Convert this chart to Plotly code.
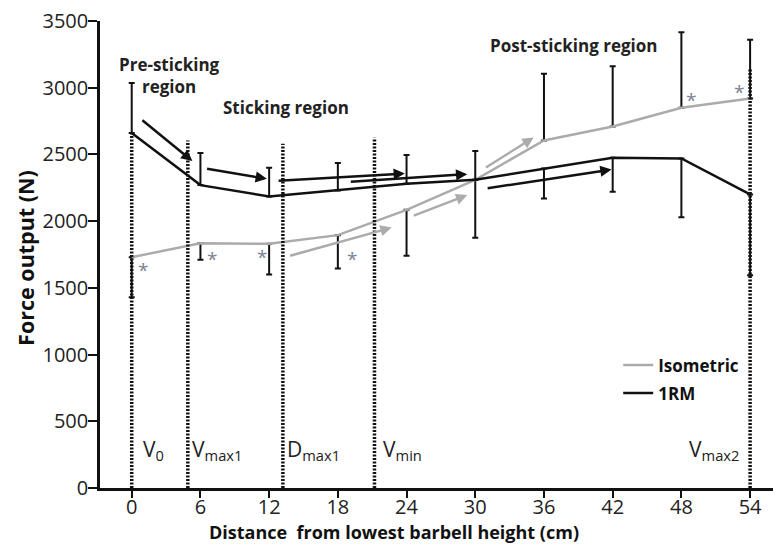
import plotly.graph_objects as go

# Force output along the lift, mean values per barbell height
distance = [0, 6, 12, 18, 24, 30, 36, 42, 48, 54]
force_1rm = [2660, 2270, 2185, 2230, 2280, 2310, 2395, 2475, 2470, 2200]
force_iso = [1730, 1835, 1830, 1895, 2085, 2310, 2605, 2710, 2850, 2920]
sd_1rm = [375, 240, 215, 205, 215, 215, 225, 255, 440, 605]
sd_iso = [300, 125, 230, 250, 345, 435, 500, 450, 565, 440]

x_ticks = [0, 6, 12, 18, 24, 30, 36, 42, 48, 54]
y_ticks = [0, 500, 1000, 1500, 2000, 2500, 3000, 3500]

# significant differences between conditions
star_x = [1.0, 7.0, 11.35, 19.2, 48.8, 53.05]
star_y = [1650, 1735, 1745, 1735, 2925, 2980]

# kinematic events of the lift
event_names = ["V<sub>0</sub>", "V<sub>max1</sub>", "D<sub>max1</sub>",
               "V<sub>min</sub>", "V<sub>max2</sub>"]
event_pos = [0, 4.9, 13.2, 21.2, 54]
event_top = [2660, 2605, 2580, 2625, 3145]
event_shift = [9, 2, 2, 7, -9]

region_names = ["Pre-sticking<br>region", "Sticking region", "Post-sticking region"]
region_x = [3.3, 13.5, 38.6]
region_y = [3090, 2852, 3320]

# trend arrows: (tail, head)
arrows_1rm = [((0.8, 2765), (5.3, 2450)),
              ((6.45, 2395), (11.8, 2317)),
              ((12.7, 2302), (23.85, 2357)),
              ((19.0, 2294), (29.3, 2352)),
              ((30.95, 2245), (41.9, 2387))]
arrows_iso = [((13.7, 1737), (22.7, 1952)),
              ((24.5, 2037), (29.3, 2195)),
              ((30.8, 2395), (35.1, 2627))]

BLACK = "#111111"
GREY = "#ababab"
FONT = "Open Sans"

# one-sided error bars, pointing away from the other condition
rm_up = [s if r >= i else 0 for s, r, i in zip(sd_1rm, force_1rm, force_iso)]
rm_dn = [0 if r >= i else s for s, r, i in zip(sd_1rm, force_1rm, force_iso)]
iso_up = [s if i > r else 0 for s, r, i in zip(sd_iso, force_1rm, force_iso)]
iso_dn = [0 if i > r else s for s, r, i in zip(sd_iso, force_1rm, force_iso)]

fig = go.Figure()

fig.add_trace(go.Scatter(
    x=distance, y=force_iso, name="Isometric", mode="lines",
    line=dict(color=GREY, width=2.5), legendgroup="iso", legendrank=1,
    error_y=dict(type="data", symmetric=False, array=iso_up, arrayminus=iso_dn,
                 color=BLACK, thickness=2, width=3),
))
fig.add_trace(go.Scatter(
    x=distance, y=force_1rm, name="1RM", mode="lines",
    line=dict(color=BLACK, width=2.5), legendgroup="rm", legendrank=2,
    error_y=dict(type="data", symmetric=False, array=rm_up, arrayminus=rm_dn,
                 color=BLACK, thickness=2, width=3),
))

shapes = []
for xp, top in zip(event_pos, event_top):
    shapes.append(dict(type="line", xref="x", yref="y", x0=xp, x1=xp, y0=0, y1=top,
                       line=dict(color=BLACK, width=3.5, dash="2px,1.5px"), layer="above"))

annotations = []
for sx, sy in zip(star_x, star_y):
    annotations.append(dict(
        x=sx, y=sy, xref="x", yref="y", text="*", showarrow=False,
        xanchor="center", yanchor="middle", yshift=-2,
        font=dict(family=FONT, size=19, color="#7b8294"),
    ))
for name, xp, sh in zip(event_names, event_pos, event_shift):
    annotations.append(dict(
        x=xp, y=285, xref="x", yref="y", text=name, showarrow=False,
        xanchor="left" if sh > 0 else "right", yanchor="middle", xshift=sh,
        font=dict(family=FONT, size=21, color="#222222"),
    ))
for name, xp, yp in zip(region_names, region_x, region_y):
    annotations.append(dict(
        x=xp, y=yp, xref="x", yref="y", text=name, showarrow=False,
        xanchor="center", yanchor="middle",
        font=dict(family=FONT, size=17, color="#222222", weight="bold"),
    ))
for arrows, col in ((arrows_1rm, BLACK), (arrows_iso, GREY)):
    for (tx, ty), (hx, hy) in arrows:
        annotations.append(dict(
            x=hx, y=hy, ax=tx, ay=ty, xref="x", yref="y", axref="x", ayref="y",
            text="", showarrow=True, arrowhead=2, arrowsize=0.9, arrowwidth=2.5,
            arrowcolor=col, standoff=0, startstandoff=0,
        ))

# axis titles
annotations.append(dict(
    x=0.4364, y=-0.0935, xref="paper", yref="paper", showarrow=False,
    text="Distance  from lowest barbell height (cm)", xanchor="center", yanchor="middle",
    font=dict(family=FONT, size=18, color="#111111", weight="bold"),
))
annotations.append(dict(
    x=-0.11, y=0.4927, xref="paper", yref="paper", showarrow=False, textangle=-90,
    text="Force output (N)", xanchor="center", yanchor="middle",
    font=dict(family=FONT, size=21.5, color="#111111", weight="bold"),
))

fig.update_layout(
    width=773, height=554,
    margin=dict(l=100, r=0, t=21, b=66),
    paper_bgcolor="white", plot_bgcolor="white",
    font=dict(family=FONT, color="#222222"),
    shapes=shapes, annotations=annotations,
    showlegend=True,
    legend=dict(x=0.77, y=0.2325, xanchor="left", yanchor="middle",
                bgcolor="rgba(0,0,0,0)", itemwidth=30, tracegroupgap=3,
                font=dict(family=FONT, size=17, color="#111111", weight="bold")),
    xaxis=dict(range=[-2.77, 56.0], tickmode="array", tickvals=x_ticks,
               showgrid=False, zeroline=False, showline=True, linecolor=BLACK,
               linewidth=2.5, ticks="outside", ticklen=7, tickwidth=2, tickcolor=BLACK,
               ticklabelstandoff=-8,
               tickfont=dict(family=FONT, size=20, color="#222222")),
    yaxis=dict(range=[0, 3500], tickmode="array", tickvals=y_ticks,
               showgrid=False, zeroline=False, showline=True, linecolor=BLACK,
               linewidth=2.5, ticks="outside", ticklen=9, tickwidth=2, tickcolor=BLACK,
               ticklabelstandoff=-4,
               tickfont=dict(family=FONT, size=20, color="#222222")),
)

fig.write_html("out.html")
